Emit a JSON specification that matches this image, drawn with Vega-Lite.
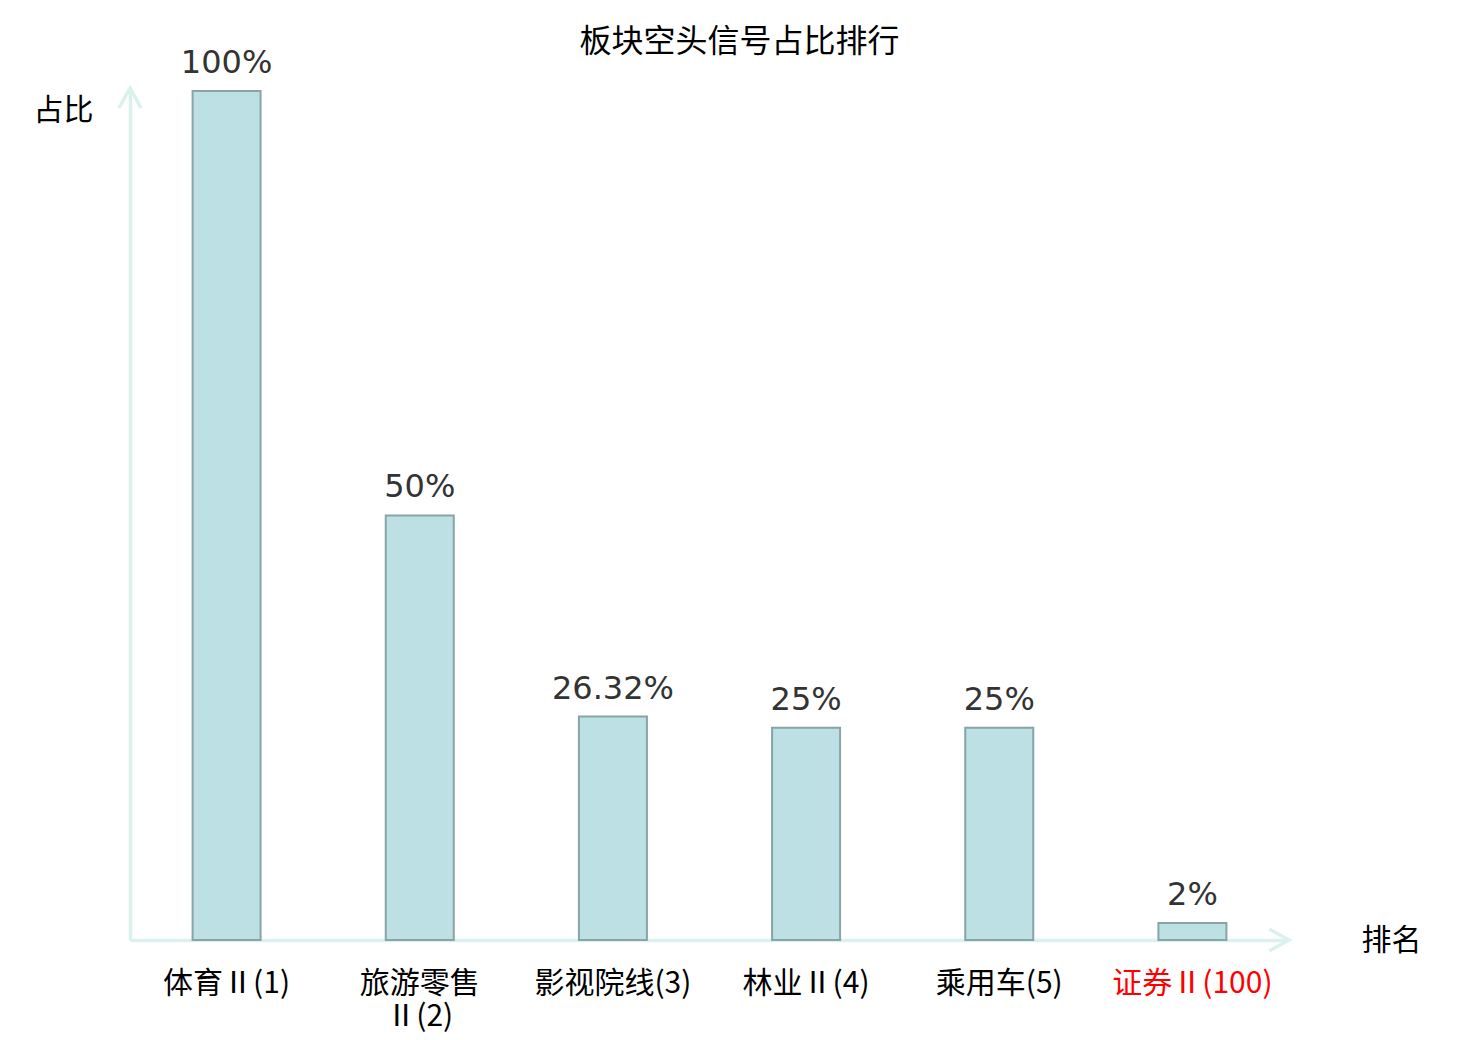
{
  "$schema": "https://vega.github.io/schema/vega-lite/v6.json",
  "width": 1159,
  "height": 852,
  "autosize": {"type": "none"},
  "padding": {"left": 130, "top": 88, "right": 191, "bottom": 100},
  "background": "white",
  "config": {"view": {"stroke": null}},
  "title": {
    "text": "板块空头信号占比排行",
    "font": "Noto Sans CJK SC",
    "fontSize": 32,
    "fontWeight": "normal",
    "color": "#000000",
    "anchor": "middle",
    "baseline": "bottom",
    "dx": 30,
    "offset": -44
  },
  "data": {
    "values": [
      {"sector": "体育Ⅱ(1)", "ratio": 100, "label": "100%"},
      {"sector": "旅游零售Ⅱ(2)", "ratio": 50, "label": "50%"},
      {"sector": "影视院线(3)", "ratio": 26.32, "label": "26.32%"},
      {"sector": "林业Ⅱ(4)", "ratio": 25, "label": "25%"},
      {"sector": "乘用车(5)", "ratio": 25, "label": "25%"},
      {"sector": "证券Ⅱ(100)", "ratio": 2, "label": "2%"}
    ]
  },
  "layer": [
    {
      "mark": {"type": "bar", "fill": "#bce0e3", "stroke": "#88a4a6", "strokeWidth": 2, "width": 68},
      "encoding": {
        "x": {
          "field": "sector",
          "type": "nominal",
          "sort": null,
          "axis": {
            "zindex": 0,
            "title": "排名",
            "titleX": 1261,
            "titleY": 0,
            "titleAlign": "center",
            "titleBaseline": "middle",
            "titleFont": "Noto Sans CJK SC",
            "titleFontSize": 30,
            "titleFontWeight": "normal",
            "titleColor": "#000000",
            "labelAngle": 0,
            "labelFont": "Noto Sans CJK SC",
            "labelFontSize": 30,
            "labelBaseline": "top",
            "labelPadding": 28,
            "labelLineHeight": 33,
            "labelColor": {
              "condition": {"test": "datum.value === '证券Ⅱ(100)'", "value": "#ff0000"},
              "value": "#000000"
            },
            "labelExpr": "datum.value === '旅游零售Ⅱ(2)' ? ['旅游零售', 'Ⅱ(2)'] : datum.label",
            "ticks": false,
            "domainColor": "#dbf1ed",
            "domainWidth": 3.5
          }
        },
        "y": {
          "field": "ratio",
          "type": "quantitative",
          "scale": {"domain": [0, 100.35], "nice": false},
          "axis": {
            "zindex": 0,
            "title": "占比",
            "titleAngle": 0,
            "titleX": -67,
            "titleY": 22,
            "titleAlign": "center",
            "titleBaseline": "middle",
            "titleFont": "Noto Sans CJK SC",
            "titleFontSize": 30,
            "titleFontWeight": "normal",
            "titleColor": "#000000",
            "labels": false,
            "ticks": false,
            "grid": false,
            "domainColor": "#dbf1ed",
            "domainWidth": 3.5
          }
        }
      }
    },
    {
      "mark": {"type": "text", "baseline": "alphabetic", "dy": -18, "font": "DejaVu Sans", "fontSize": 32, "color": "#333333"},
      "encoding": {
        "x": {"field": "sector", "type": "nominal", "sort": null},
        "y": {"field": "ratio", "type": "quantitative"},
        "text": {"field": "label"}
      }
    },
    {
      "data": {"values": [{"arrow": "y"}]},
      "mark": {"type": "point", "shape": "M -1 1.8 L 0 0 L 1 1.8", "size": 484, "filled": false, "stroke": "#dbf1ed", "strokeWidth": 3.5, "opacity": 1},
      "encoding": {
        "x": {"value": 0},
        "y": {"datum": 100.35, "type": "quantitative"}
      }
    },
    {
      "data": {"values": [{"arrow": "x"}]},
      "mark": {"type": "point", "shape": "M -1.8 -1 L 0 0 L -1.8 1", "size": 484, "filled": false, "stroke": "#dbf1ed", "strokeWidth": 3.5, "opacity": 1},
      "encoding": {
        "x": {"value": 1159},
        "y": {"datum": 0, "type": "quantitative"}
      }
    }
  ]
}
